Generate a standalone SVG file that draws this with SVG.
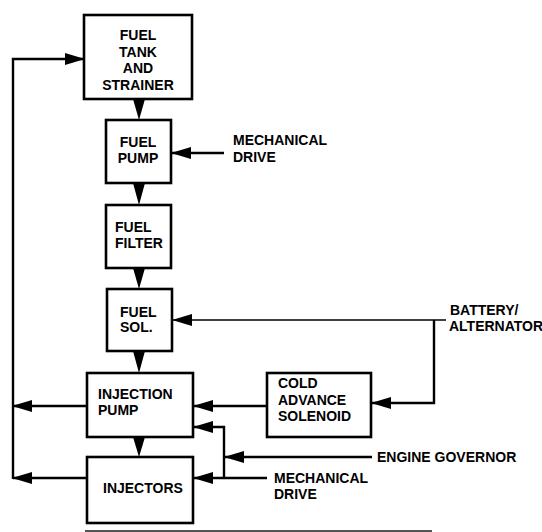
<svg xmlns="http://www.w3.org/2000/svg" width="542" height="532" viewBox="0 0 542 532">
<style>
.box{fill:#fff;stroke:#000;stroke-width:2.6}
.t{font-family:"Liberation Sans",Arial,sans-serif;font-weight:bold;font-size:14px;fill:#000}
.c{text-anchor:middle}
.ln{fill:none;stroke:#000;stroke-width:2.4}
.thin{fill:none;stroke:#000;stroke-width:1.4}
.ah{fill:#000}
</style>
<defs>
<marker id="arr" markerUnits="userSpaceOnUse" markerWidth="20" markerHeight="12" refX="19" refY="6" orient="auto" viewBox="0 0 20 12">
<path d="M0,0 L20,6 L0,12 z" fill="#000"/>
</marker>
</defs>
<rect width="542" height="532" fill="#fff"/>
<g id="connectors">
<path class="ln" d="M13,479 V59 H84" marker-end="url(#arr)"/>
<path class="ln" d="M87,406 H13" marker-end="url(#arr)"/>
<path class="ln" d="M87,478 H13" marker-end="url(#arr)"/>
<path class="ln" d="M224,153 H172" marker-end="url(#arr)"/>
<path class="thin" d="M446,320 H173" marker-end="url(#arr)"/>
<path class="ln" d="M434,320 V403 H372" marker-end="url(#arr)"/>
<path class="ln" d="M267,406 H194" marker-end="url(#arr)"/>
<path class="ln" d="M372,457 H225" marker-end="url(#arr)"/>
<path class="ln" d="M267,478 H194" marker-end="url(#arr)"/>
<path class="ln" d="M224,478 V427 H194" marker-end="url(#arr)"/>
<polygon class="ah" points="133,99 145,99 139,120"/>
<polygon class="ah" points="133,183 145,183 139,205"/>
<polygon class="ah" points="133,268 145,268 139,289"/>
<polygon class="ah" points="133,351 145,351 139,373"/>
<polygon class="ah" points="133,437 145,437 139,457"/>
</g>
<g id="fuel-tank">
<rect class="box" x="84" y="15" width="108" height="84"/>
<text class="t c" x="138" y="40">FUEL</text>
<text class="t c" x="138" y="56.5">TANK</text>
<text class="t c" x="138" y="73">AND</text>
<text class="t c" x="138" y="89.5">STRAINER</text>
</g>
<g id="fuel-pump">
<rect class="box" x="106" y="120" width="65" height="63"/>
<text class="t c" x="138" y="147">FUEL</text>
<text class="t c" x="138" y="163">PUMP</text>
</g>
<g id="fuel-filter">
<rect class="box" x="106" y="205" width="65" height="63"/>
<text class="t" x="115" y="232">FUEL</text>
<text class="t" x="115" y="248">FILTER</text>
</g>
<g id="fuel-sol">
<rect class="box" x="107" y="289" width="65" height="62"/>
<text class="t" x="120" y="317">FUEL</text>
<text class="t" x="120" y="332">SOL.</text>
</g>
<g id="injection-pump">
<rect class="box" x="87" y="373" width="106" height="64"/>
<text class="t" x="98" y="399">INJECTION</text>
<text class="t" x="98" y="415">PUMP</text>
</g>
<g id="injectors">
<rect class="box" x="87" y="457" width="106" height="66"/>
<text class="t" x="103" y="493">INJECTORS</text>
</g>
<g id="cold-advance-solenoid">
<rect class="box" x="267" y="373" width="104" height="64"/>
<text class="t" x="278" y="388">COLD</text>
<text class="t" x="278" y="404.5">ADVANCE</text>
<text class="t" x="278" y="421">SOLENOID</text>
</g>
<g id="mechanical-drive-top">
<text class="t" x="233" y="145">MECHANICAL</text>
<text class="t" x="233" y="162">DRIVE</text>
</g>
<g id="battery-alternator">
<text class="t" x="450" y="315">BATTERY/</text>
<text class="t" x="449" y="331" font-size="13">ALTERNATOR</text>
</g>
<g id="engine-governor">
<text class="t" x="377" y="462">ENGINE GOVERNOR</text>
</g>
<g id="mechanical-drive-bottom">
<text class="t" x="274" y="483">MECHANICAL</text>
<text class="t" x="274" y="499">DRIVE</text>
</g>
<line x1="85" y1="531" x2="432" y2="531" stroke="#555" stroke-width="2"/>
</svg>
